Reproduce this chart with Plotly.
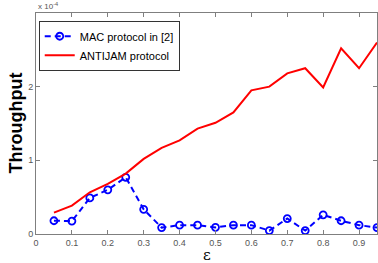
import plotly.graph_objects as go

eps = [0.05, 0.10, 0.15, 0.20, 0.25, 0.30, 0.35, 0.40, 0.45, 0.50, 0.55, 0.60, 0.65, 0.70, 0.75, 0.80, 0.85, 0.90, 0.95]
mac = [0.18, 0.175, 0.49, 0.60, 0.77, 0.335, 0.087, 0.12, 0.12, 0.09, 0.12, 0.12, 0.046, 0.21, 0.046, 0.26, 0.18, 0.12, 0.087]
antijam = [0.29, 0.385, 0.566, 0.68, 0.82, 1.02, 1.17, 1.27, 1.43, 1.51, 1.65, 1.95, 2.0, 2.18, 2.25, 1.99, 2.52, 2.25, 2.60]
scale = 1e-4
xticks = [0, 0.1, 0.2, 0.3, 0.4, 0.5, 0.6, 0.7, 0.8, 0.9]
xticklabels = ["0", "0.1", "0.2", "0.3", "0.4", "0.5", "0.6", "0.7", "0.8", "0.9"]
yticks = [0, 1, 2]
yticklabels = ["0", "1", "2"]

fig = go.Figure()
fig.add_trace(go.Scatter(
    x=eps, y=[v * scale for v in mac], mode="lines+markers",
    name="MAC protocol in [2]",
    line=dict(color="#0000ff", width=2, dash="6px,4px"),
    marker=dict(symbol="circle-open", size=7, color="#0000ff", line=dict(width=1.8, color="#0000ff")),
))
fig.add_trace(go.Scatter(
    x=eps, y=[v * scale for v in antijam], mode="lines",
    name="ANTIJAM protocol",
    line=dict(color="#ff0000", width=2),
))

axis_common = dict(
    showline=True, linecolor="#7f7f7f", linewidth=1, mirror="ticks",
    ticks="inside", ticklen=4, tickcolor="#7f7f7f", tickwidth=1,
    showgrid=False, zeroline=False,
    tickfont=dict(family="Liberation Sans, Arial", size=9, color="#555555"),
)
fig.update_xaxes(range=[0, 0.95], tickvals=xticks, ticktext=xticklabels, **axis_common)
fig.update_yaxes(range=[0, 3e-4], tickvals=[t * scale for t in yticks], ticktext=yticklabels, **axis_common)

fig.update_layout(
    width=378, height=263,
    margin=dict(l=36, r=1, t=13, b=29),
    plot_bgcolor="white", paper_bgcolor="white",
    showlegend=True,
    legend=dict(x=0.008, y=0.965, xanchor="left", yanchor="top",
                bgcolor="white", bordercolor="#333333", borderwidth=1,
                font=dict(family="Liberation Sans, Arial", size=11, color="#000000"),
                itemwidth=30, tracegroupgap=0),
    annotations=[
        dict(text="x 10<sup>-4</sup>", x=0, y=1, xref="paper", yref="paper",
             xanchor="left", yanchor="bottom", xshift=0, yshift=0, showarrow=False,
             font=dict(family="Liberation Sans, Arial", size=8, color="#555555")),
        dict(text="<b>Throughput</b>", x=0, y=0.5, xref="paper", yref="paper",
             xanchor="center", yanchor="middle", xshift=-21, textangle=-90, showarrow=False,
             font=dict(family="Liberation Sans, Arial", size=18, color="#000000")),
        dict(text="ε", x=0.5, y=0, xref="paper", yref="paper",
             xanchor="center", yanchor="top", yshift=-10, showarrow=False,
             font=dict(family="DejaVu Serif, Liberation Serif", size=15, color="#000000")),
    ],
)

fig.write_html("out.html", config={"displayModeBar": False},
               post_script="document.body.style.margin='0';document.body.style.overflow='hidden';")
